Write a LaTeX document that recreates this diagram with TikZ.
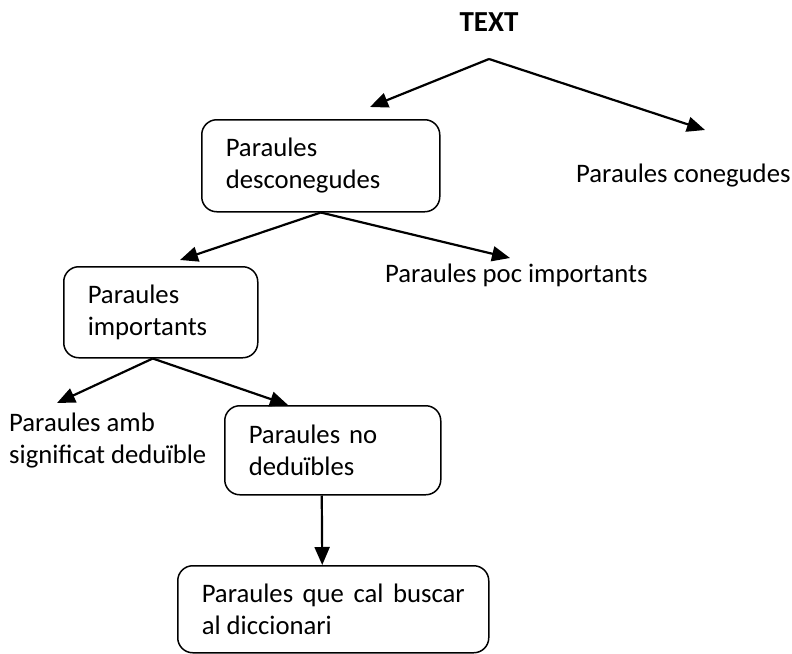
\documentclass[tikz,border=0pt]{standalone}
\usepackage{fontspec}
\setmainfont{Carlito}
\usepackage{tikz}
\usetikzlibrary{arrows.meta, positioning}

\begin{document}
\begin{tikzpicture}[x=1pt, y=-1pt,
    every node/.style={font=\fontsize{26.7}{32}\selectfont},
    caixa/.style={draw, line width=1.5pt, rounded corners=15pt, align=left,
        inner xsep=24pt, inner ysep=0pt, anchor=north west},
    etiqueta/.style={anchor=west, align=left, inner sep=0pt},
    fletxa/.style={line width=2.2pt, -{Triangle[length=18pt, width=15pt]}}]
    \useasboundingbox (0,0) rectangle (792,653);
    % arrel
    \node[font=\fontsize{29}{32}\selectfont\bfseries] (titol) at (489,22) {TEXT};
    \coordinate (vertex) at (489,59);
    \coordinate (cap1) at (370,107);
    \coordinate (cap2) at (705,130);
    \node[caixa, text width=190pt, minimum height=92pt] (desconegudes) at (201,119) {Paraules\\desconegudes};
    \node[etiqueta] (conegudes) at (576,176) {Paraules conegudes};
    \draw[fletxa] (vertex) -- (cap1);
    \draw[fletxa] (vertex) -- (cap2);
    % segon nivell
    \coordinate (cap3) at (180,260);
    \coordinate (cap4) at (510,258);
    \node[caixa, text width=146pt, minimum height=91pt] (importants) at (63,266) {Paraules\\importants};
    \node[etiqueta] (poc) at (385,275) {Paraules poc importants};
    \draw[fletxa] (desconegudes.south) -- (cap3);
    \draw[fletxa] (desconegudes.south) -- (cap4);
    % tercer nivell
    \coordinate (cap5) at (57,403);
    \coordinate (cap6) at (288,405);
    \node[etiqueta] (deduible) at (9,441) {Paraules amb\\significat deduïble};
    \node[caixa, text width=168pt, minimum height=89pt] (nodeduibles) at (224,405) {Paraules no\\deduïbles};
    \draw[fletxa] ([xshift=-8pt]importants.south) -- (cap5);
    \draw[fletxa] ([xshift=-8pt]importants.south) -- (cap6);
    % diccionari
    \node[caixa, text width=263pt, minimum height=87pt, align=justify] (diccionari) at (177,565) {Paraules que cal buscar\linebreak al diccionari};
    \draw[fletxa] ([xshift=-11pt]nodeduibles.south) -- ([xshift=-11pt]diccionari.north);
\end{tikzpicture}
\end{document}
